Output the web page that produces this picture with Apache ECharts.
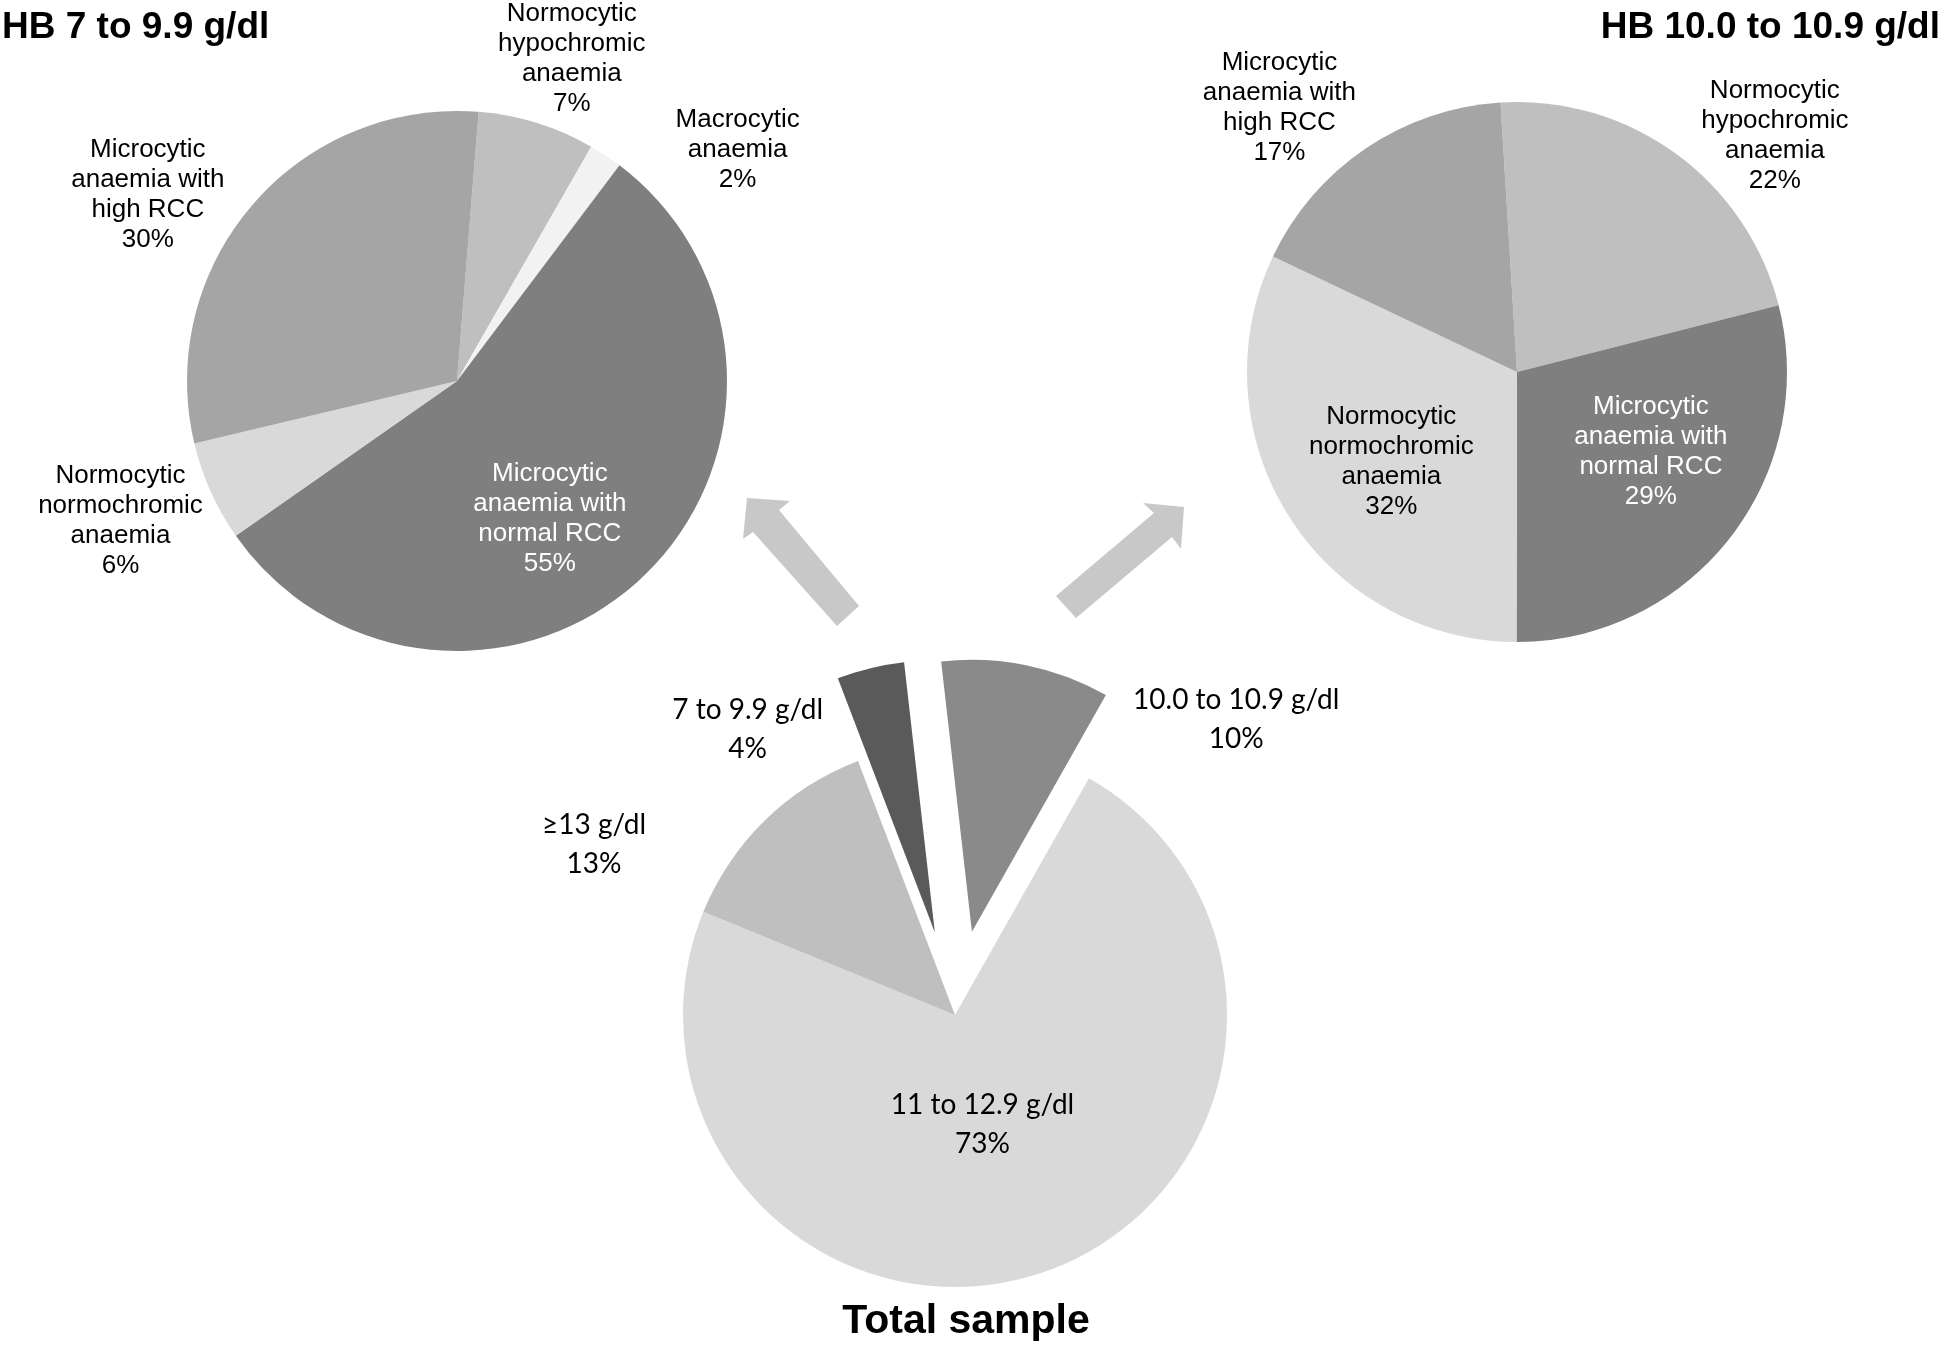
<!DOCTYPE html>
<html>
<head>
<meta charset="utf-8">
<script src="https://cdn.jsdelivr.net/npm/echarts@6/dist/echarts.min.js"></script>
<style>
html,body{margin:0;padding:0;background:#ffffff;}
#chart{width:1944px;height:1347px;}
</style>
</head>
<body>
<div id="chart"></div>
<script>
// ---------------- DATA ----------------
const titles = ['HB 7 to 9.9 g/dl', 'HB 10.0 to 10.9 g/dl', 'Total sample'];

const hb7Categories = [
  'Normocytic\nhypochromic\nanaemia',
  'Macrocytic\nanaemia',
  'Microcytic\nanaemia with\nnormal RCC',
  'Normocytic\nnormochromic\nanaemia',
  'Microcytic\nanaemia with\nhigh RCC'
];
const hb7Values = [7, 2, 55, 6, 30];

const hb10Categories = [
  'Normocytic\nhypochromic\nanaemia',
  'Microcytic\nanaemia with\nnormal RCC',
  'Normocytic\nnormochromic\nanaemia',
  'Microcytic\nanaemia with\nhigh RCC'
];
const hb10Values = [22, 29, 32, 17];

const totalCategories = ['7 to 9.9 g/dl', '10.0 to 10.9 g/dl', '11 to 12.9 g/dl', '\u226513 g/dl'];
const totalValues = [4, 10, 73, 13];

// ---------------- STYLES ----------------
const hb7Colors = ['#bfbfbf', '#f2f2f2', '#7f7f7f', '#d9d9d9', '#a5a5a5'];
const hb7Inside = [false, false, true, false, false];
const hb7LabelColors = ['#000', '#000', '#fff', '#000', '#000'];
const hb7Nudge = [[29, -45], [121, 11], [-3, 39], [-72, 21], [-89, 3]];

const hb10Colors = ['#bfbfbf', '#7f7f7f', '#d9d9d9', '#a5a5a5'];
const hb10Inside = [false, true, true, false];
const hb10LabelColors = ['#000', '#fff', '#000', '#000'];
const hb10Nudge = [[87, -2], [25, -5], [-9, 16], [-75, -24]];

const totalColors = ['#5a5a5a', '#8a8a8a', '#d9d9d9', '#bfbfbf'];
const totalInside = [false, false, true, false];
const totalExploded = [true, true, false, false];
const totalLabelColors = ['#000', '#000', '#000', '#000'];
const totalNudge = [[-118, 81], [206, 74], [-18, -22], [-157, 38]];

const topFont = { fontFamily: '"Liberation Sans", Arial, sans-serif', fontSize: 26, lineHeight: 30 };
const bottomFont = { fontFamily: 'Lato, "Open Sans", sans-serif', fontSize: 28, lineHeight: 39 };

function buildPie(cats, vals, colors, inside, labelColors, nudge, font, center, radius, startAngle, exploded) {
  return {
    type: 'pie',
    center: center,
    radius: radius,
    startAngle: startAngle,
    clockwise: true,
    avoidLabelOverlap: false,
    selectedMode: exploded ? 'multiple' : false,
    selectedOffset: 85,
    animation: false,
    silent: true,
    itemStyle: { borderWidth: 0, borderRadius: 0 },
    select: { itemStyle: { borderWidth: 0 } },
    labelLine: { show: false, length: 20, length2: 0 },
    label: {
      show: true,
      distanceToLabelLine: 0,
      fontFamily: font.fontFamily,
      fontSize: font.fontSize,
      lineHeight: font.lineHeight,
      formatter: function (p) { return p.name + '\n' + p.value + '%'; }
    },
    labelLayout: function (params) {
      const n = nudge[params.dataIndex];
      return { dx: n[0], dy: n[1], align: 'center', verticalAlign: 'middle' };
    },
    data: cats.map(function (c, i) {
      return {
        name: c,
        value: vals[i],
        selected: exploded ? exploded[i] : false,
        itemStyle: { color: colors[i] },
        label: { position: inside[i] ? 'inside' : 'outside', color: labelColors[i] }
      };
    })
  };
}

const arrowColor = '#c8c8c8';
const leftArrow = [[747, 498], [790, 501], [779, 510], [859, 606], [837, 626], [753, 532], [743, 539]];
const rightArrow = [[1184, 507], [1143, 503], [1154, 513], [1056, 596], [1076, 618], [1172, 537], [1181, 549]];

const chart = echarts.init(document.getElementById('chart'), null, { renderer: 'canvas' });
chart.setOption({
  backgroundColor: '#ffffff',
  animation: false,
  graphic: [
    { type: 'polygon', shape: { points: leftArrow }, style: { fill: arrowColor }, silent: true },
    { type: 'polygon', shape: { points: rightArrow }, style: { fill: arrowColor }, silent: true },
    { type: 'text', x: 2, y: 28, style: { text: titles[0], fill: '#000', font: 'bold 37px "Liberation Sans", Arial, sans-serif', align: 'left', verticalAlign: 'middle' } },
    { type: 'text', x: 1940, y: 28, style: { text: titles[1], fill: '#000', font: 'bold 37px "Liberation Sans", Arial, sans-serif', align: 'right', verticalAlign: 'middle' } },
    { type: 'text', x: 966, y: 1322, style: { text: titles[2], fill: '#000', font: 'bold 41px "Liberation Sans", Arial, sans-serif', align: 'center', verticalAlign: 'middle' } }
  ],
  series: [
    buildPie(hb7Categories, hb7Values, hb7Colors, hb7Inside, hb7LabelColors, hb7Nudge, topFont, [457, 381], 270, 85.4, null),
    buildPie(hb10Categories, hb10Values, hb10Colors, hb10Inside, hb10LabelColors, hb10Nudge, topFont, [1517, 372], 270, 93.5, null),
    buildPie(totalCategories, totalValues, totalColors, totalInside, totalLabelColors, totalNudge, bottomFont, [955, 1015], 272, 110.9, totalExploded)
  ]
});
</script>
</body>
</html>
